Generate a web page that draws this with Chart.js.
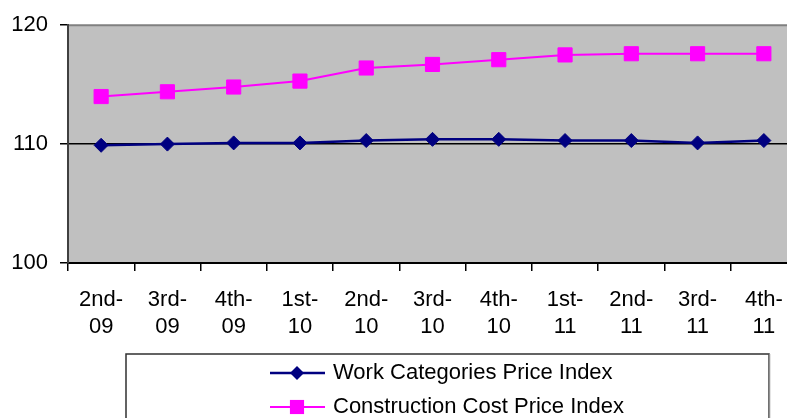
<!DOCTYPE html>
<html>
<head>
<meta charset="utf-8">
<script src="https://cdn.jsdelivr.net/npm/chart.js@4.4.0/dist/chart.umd.min.js"></script>
<style>
  html, body { margin: 0; padding: 0; overflow: hidden; background: #fff; }
  #wrap { position: absolute; left: 0; top: 0; width: 808px; height: 418px; }
</style>
</head>
<body>
<div id="wrap"><canvas id="chart"></canvas></div>
<script>
// Quarters (two-line tick labels)
const quarters = [
    ['2nd-', '09'], ['3rd-', '09'], ['4th-', '09'],
    ['1st-', '10'], ['2nd-', '10'], ['3rd-', '10'], ['4th-', '10'],
    ['1st-', '11'], ['2nd-', '11'], ['3rd-', '11'], ['4th-', '11']
];

// Series values
const workCategories = [109.9, 110.0, 110.1, 110.1, 110.3, 110.4, 110.4, 110.3, 110.3, 110.1, 110.3];
const constructionCost = [114.0, 114.4, 114.8, 115.3, 116.4, 116.7, 117.1, 117.5, 117.6, 117.6, 117.6];

const seriesNames = ['Work Categories Price Index', 'Construction Cost Price Index'];
const yTicks = [100, 110, 120];

const fontFamily = '"Liberation Sans", Arial, sans-serif';

// Grey plot background and border
const plotBackground = {
    id: 'plotBackground',
    beforeDraw(chart) {
        const { ctx, chartArea: a } = chart;
        ctx.save();
        ctx.fillStyle = '#c0c0c0';
        ctx.fillRect(a.left, a.top, a.right - a.left, a.bottom - a.top);
        ctx.strokeStyle = '#808080';
        ctx.lineWidth = 2;
        ctx.beginPath();
        ctx.moveTo(a.left, a.top);
        ctx.lineTo(a.right, a.top);
        ctx.lineTo(a.right, a.bottom);
        ctx.stroke();
        ctx.restore();
    }
};

// Boxed legend with line + marker samples
const boxLegend = {
    id: 'boxLegend',
    afterDraw(chart) {
        const ctx = chart.ctx;
        const left = 126, right = 769, top = 354;
        ctx.save();
        ctx.strokeStyle = '#303030';
        ctx.lineWidth = 1.5;
        ctx.strokeRect(left, top, right - left, 100);
        ctx.strokeStyle = '#909090';
        ctx.beginPath();
        ctx.moveTo(right + 0.5, top);
        ctx.lineTo(right + 0.5, 430);
        ctx.stroke();

        chart.data.datasets.forEach((ds, i) => {
            const y = 373 + i * 34;
            ctx.strokeStyle = ds.borderColor;
            ctx.lineWidth = ds.borderWidth;
            ctx.beginPath();
            ctx.moveTo(270, y);
            ctx.lineTo(325, y);
            ctx.stroke();
            ctx.fillStyle = ds.pointBackgroundColor;
            ctx.beginPath();
            if (ds.pointStyle === 'rect') {
                const s = ds.pointRadius * Math.SQRT1_2;
                ctx.fillRect(297 - s, y - s, 2 * s, 2 * s);
            } else {
                const r = ds.pointRadius;
                ctx.moveTo(297, y - r);
                ctx.lineTo(297 + r, y);
                ctx.lineTo(297, y + r);
                ctx.lineTo(297 - r, y);
                ctx.closePath();
                ctx.fill();
            }
            ctx.fillStyle = '#000';
            ctx.font = '22px ' + fontFamily;
            ctx.textBaseline = 'middle';
            ctx.fillText(ds.label, 333, y);
        });
        ctx.restore();
    }
};

new Chart(document.getElementById('chart'), {
    type: 'line',
    data: {
        labels: quarters,
        datasets: [{
            label: seriesNames[0],
            data: workCategories,
            borderColor: '#000080',
            backgroundColor: '#000080',
            borderWidth: 2.5,
            pointStyle: 'rectRot',
            pointRadius: 7,
            pointBackgroundColor: '#000080',
            pointBorderColor: '#000080',
            pointBorderWidth: 1,
            tension: 0
        }, {
            label: seriesNames[1],
            data: constructionCost,
            borderColor: '#ff00ff',
            backgroundColor: '#ff00ff',
            borderWidth: 2,
            pointStyle: 'rect',
            pointRadius: 10,
            pointBackgroundColor: '#ff00ff',
            pointBorderColor: '#ff00ff',
            pointBorderWidth: 1,
            tension: 0
        }]
    },
    options: {
        responsive: true,
        maintainAspectRatio: false,
        animation: false,
        layout: { padding: { top: 22, right: 3, left: 0, bottom: 0 } },
        plugins: {
            legend: { display: false },
            tooltip: { enabled: false }
        },
        scales: {
            x: {
                offset: true,
                afterFit: scale => { scale.height = 155; },
                grid: {
                    offset: true,
                    drawOnChartArea: false,
                    tickLength: 8,
                    tickColor: '#000',
                    lineWidth: 1.5
                },
                border: { color: '#000', width: 2 },
                ticks: {
                    color: '#000',
                    padding: 15,
                    maxRotation: 0,
                    autoSkip: false,
                    font: { family: fontFamily, size: 22, lineHeight: 1.25 }
                }
            },
            y: {
                min: 100,
                max: 120,
                afterFit: scale => { scale.width = 68; },
                afterBuildTicks: scale => { scale.ticks = yTicks.map(v => ({ value: v })); },
                grid: {
                    color: c => (c.tick && c.tick.value === 110) ? '#000' : 'rgba(0,0,0,0)',
                    lineWidth: 1.5,
                    tickLength: 8,
                    tickColor: '#000'
                },
                border: { color: '#404040', width: 2 },
                ticks: {
                    color: '#000',
                    padding: 12,
                    font: { family: fontFamily, size: 22 }
                }
            }
        }
    },
    plugins: [plotBackground, boxLegend]
});
</script>
</body>
</html>
